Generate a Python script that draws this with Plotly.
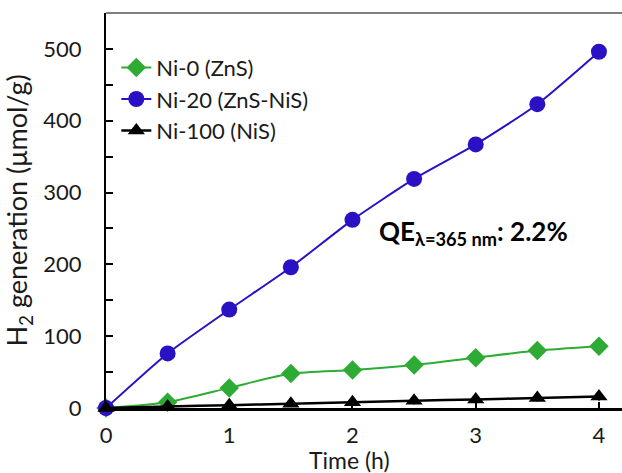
import plotly.graph_objects as go

time_h = [0, 0.5, 1, 1.5, 2, 2.5, 3, 3.5, 4]
ni0 = [0, 8, 28, 48, 53, 60, 70, 80, 86]
ni20 = [0, 76, 137, 196, 262, 319, 367, 423, 496]
ni100 = [0, 2, 4, 6, 8, 10, 12, 14, 16]
ni100_err = [0, 3, 3, 4, 4, 5, 5, 5, 6]

FONT = "Lato"
fig = go.Figure()
fig.add_trace(go.Scatter(x=time_h, y=ni0, name="Ni-0 (ZnS)", mode="lines+markers",
                         line=dict(color="#2eab35", width=2, shape="spline", smoothing=0.6),
                         marker=dict(symbol="diamond", size=15, color="#2eab35"), cliponaxis=False))
fig.add_trace(go.Scatter(x=time_h, y=ni20, name="Ni-20 (ZnS-NiS)", mode="lines+markers",
                         line=dict(color="#2a12c4", width=2, shape="spline", smoothing=0.6),
                         marker=dict(symbol="circle", size=16, color="#2a12c4"), cliponaxis=False))
fig.add_trace(go.Scatter(x=time_h, y=ni100, name="Ni-100 (NiS)", mode="lines+markers",
                         line=dict(color="black", width=2.5, shape="spline", smoothing=0.6),
                         marker=dict(symbol="triangle-up", size=15, color="black"),
                         error_y=dict(type="data", array=ni100_err, color="black", thickness=1.5, width=0),
                         cliponaxis=False))

fig.update_layout(
    width=622, height=473,
    margin=dict(l=106, r=0, t=13, b=65),
    plot_bgcolor="white", paper_bgcolor="white",
    font=dict(family=FONT, size=22, color="#1a1a1a"),
    showlegend=True,
    legend=dict(x=0.02, y=0.915, xanchor="left", yanchor="top", bgcolor="rgba(0,0,0,0)",
                font=dict(size=22), itemwidth=30, tracegroupgap=0),
    xaxis=dict(range=[0, 4.187], tickvals=[0, 1, 2, 3, 4], ticks="inside", ticklen=6,
               tickcolor="black", tickwidth=1.5, showline=True, linecolor="black", linewidth=2.5,
               showgrid=False, zeroline=False, ticklabelstandoff=6),
    yaxis=dict(range=[0, 550], tickvals=[0, 100, 200, 300, 400, 500], ticks="inside", ticklen=7,
               tickcolor="black", tickwidth=1.5, showline=True, linecolor="black", linewidth=2,
               showgrid=False, zeroline=False, ticklabelstandoff=18,
               minor=dict(tickvals=[50, 150, 250, 350, 450], ticks="inside", ticklen=7,
                          tickcolor="black", tickwidth=1.5),
               title=dict(text="H<sub>2</sub> generation (μmol/g)", font=dict(size=27), standoff=10)),
)
fig.add_shape(type="line", xref="paper", yref="paper", x0=0, x1=1, y0=1, y1=1,
              line=dict(color="#555555", width=1.5))
fig.add_annotation(x=(349 - 106) / 516, y=-(460 - 408) / 395, xref="paper", yref="paper",
                   xanchor="center", yanchor="middle", showarrow=False,
                   text="Time (h)", font=dict(family=FONT, size=23, color="#1a1a1a"))
fig.add_annotation(x=0.526, y=0.445, xref="paper", yref="paper", xanchor="left", yanchor="middle",
                   showarrow=False, text="<b>QE<sub>λ=365 nm</sub>: 2.2%</b>",
                   font=dict(family=FONT, size=26, color="black"))
fig.write_html("out.html")
